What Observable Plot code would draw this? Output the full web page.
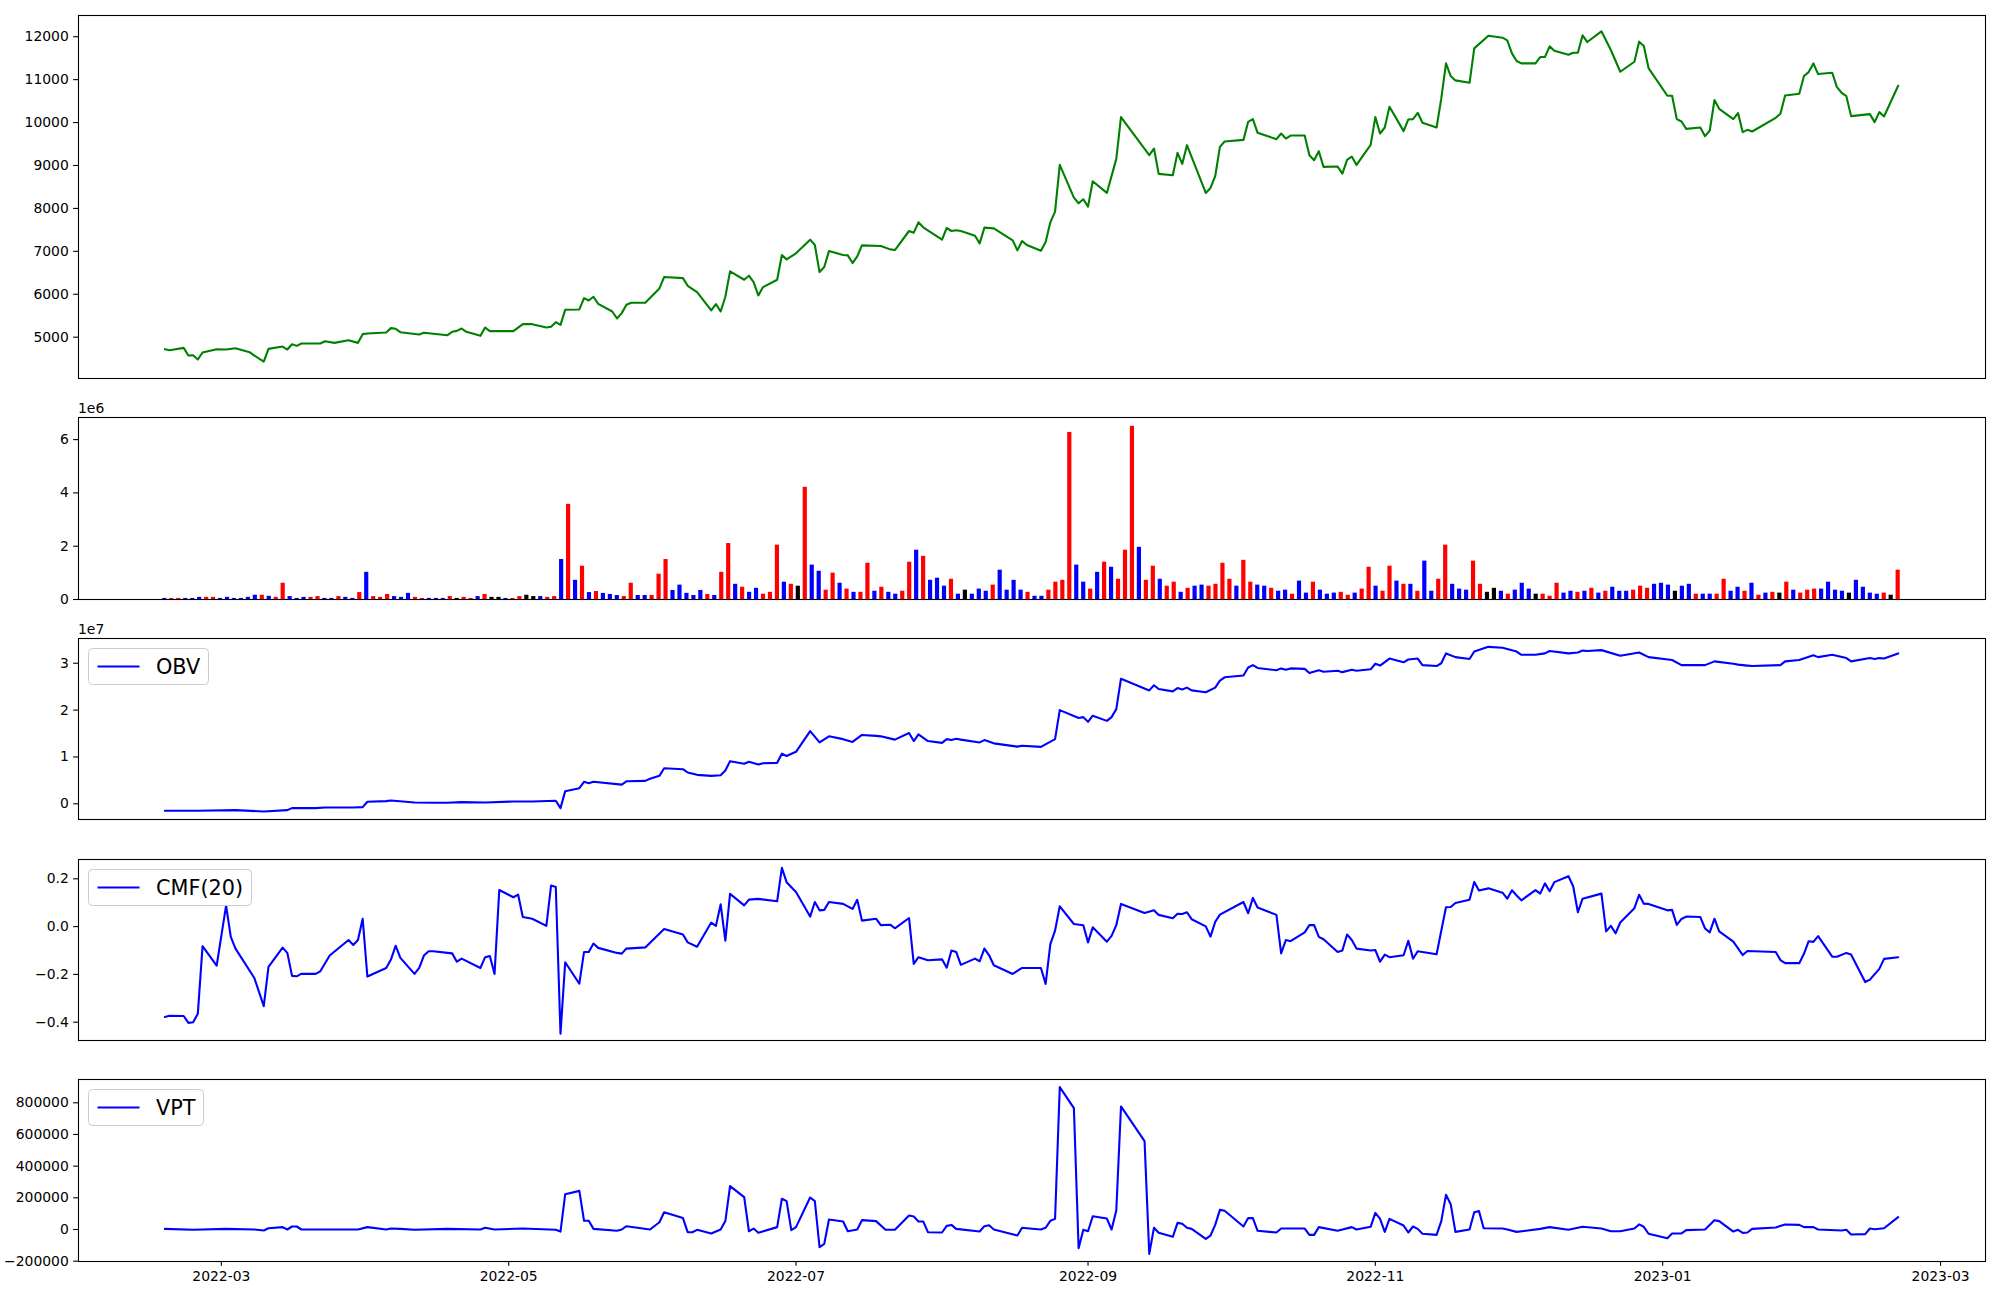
<!DOCTYPE html>
<html><head><meta charset="utf-8">
<script src="https://cdn.jsdelivr.net/npm/d3@7"></script>
<script src="https://cdn.jsdelivr.net/npm/@observablehq/plot@0.6"></script>
<style>
html,body{margin:0;padding:0;background:#fff;overflow:hidden}
#root{position:relative;width:2000px;height:1300px;font-family:"DejaVu Sans",sans-serif;background:#fff}
.panel{position:absolute;left:0}
.offset{position:absolute;font-size:13.9px;line-height:16px;color:#000;font-family:"DejaVu Sans",sans-serif}
.legend{position:absolute}
</style></head><body><div id="root"></div>
<script>
// ---------------- data ----------------
const priceSeries = [
["2022-02-17",4721],["2022-02-18",4697],["2022-02-21",4752],["2022-02-22",4573],["2022-02-23",4581],["2022-02-24",4480],["2022-02-25",4643],["2022-02-28",4721],
["2022-03-02",4713],["2022-03-04",4744],["2022-03-07",4651],["2022-03-08",4573],["2022-03-10",4433],["2022-03-11",4728],["2022-03-14",4783],["2022-03-15",4713],["2022-03-16",4837],["2022-03-17",4798],["2022-03-18",4853],["2022-03-22",4853],["2022-03-23",4907],["2022-03-25",4868],["2022-03-28",4930],["2022-03-30",4868],["2022-03-31",5071],
["2022-04-01",5086],["2022-04-05",5110],["2022-04-06",5211],["2022-04-07",5195],["2022-04-08",5117],["2022-04-12",5063],["2022-04-13",5102],["2022-04-18",5047],["2022-04-19",5125],["2022-04-20",5148],["2022-04-21",5203],["2022-04-22",5125],["2022-04-25",5032],["2022-04-26",5226],["2022-04-27",5141],
["2022-05-02",5141],["2022-05-04",5304],["2022-05-06",5304],["2022-05-09",5226],["2022-05-10",5242],["2022-05-11",5351],["2022-05-12",5288],["2022-05-13",5638],["2022-05-16",5646],["2022-05-17",5911],["2022-05-18",5856],["2022-05-19",5942],["2022-05-20",5778],["2022-05-23",5599],["2022-05-24",5436],["2022-05-25",5561],["2022-05-26",5755],["2022-05-27",5802],["2022-05-30",5802],
["2022-06-02",6136],["2022-06-03",6401],["2022-06-07",6377],["2022-06-08",6198],["2022-06-10",6051],["2022-06-13",5623],["2022-06-14",5771],["2022-06-15",5599],["2022-06-16",5942],["2022-06-17",6533],["2022-06-20",6338],["2022-06-21",6432],["2022-06-22",6284],["2022-06-23",5973],["2022-06-24",6167],["2022-06-27",6338],["2022-06-28",6914],["2022-06-29",6813],
["2022-07-01",6953],["2022-07-04",7272],["2022-07-05",7147],["2022-07-06",6517],["2022-07-07",6634],["2022-07-08",7007],["2022-07-11",6914],["2022-07-12",6906],["2022-07-13",6727],["2022-07-14",6883],["2022-07-15",7140],["2022-07-19",7124],["2022-07-21",7046],["2022-07-22",7031],["2022-07-25",7474],["2022-07-26",7435],["2022-07-27",7676],["2022-07-28",7560],
["2022-08-01",7272],["2022-08-02",7544],["2022-08-03",7474],["2022-08-04",7490],["2022-08-05",7474],["2022-08-08",7365],["2022-08-09",7186],["2022-08-10",7552],["2022-08-12",7536],["2022-08-16",7256],["2022-08-17",7023],["2022-08-18",7241],["2022-08-19",7147],["2022-08-22",7015],["2022-08-23",7217],["2022-08-24",7676],["2022-08-25",7925],["2022-08-26",9014],["2022-08-29",8252],["2022-08-30",8120],["2022-08-31",8213],
["2022-09-01",8042],["2022-09-02",8633],["2022-09-05",8361],["2022-09-07",9154],["2022-09-08",10126],["2022-09-14",9240],["2022-09-15",9395],["2022-09-16",8804],["2022-09-19",8773],["2022-09-20",9294],["2022-09-21",9037],["2022-09-22",9473],["2022-09-26",8361],["2022-09-27",8477],["2022-09-28",8750],["2022-09-29",9434],["2022-09-30",9559],
["2022-10-04",9597],["2022-10-05",10017],["2022-10-06",10080],["2022-10-07",9761],["2022-10-11",9613],["2022-10-12",9745],["2022-10-13",9628],["2022-10-14",9698],["2022-10-17",9698],["2022-10-18",9240],["2022-10-19",9123],["2022-10-20",9333],["2022-10-21",8967],["2022-10-24",8975],["2022-10-25",8812],["2022-10-26",9131],["2022-10-27",9209],["2022-10-28",9014],["2022-10-31",9481],
["2022-11-01",10126],["2022-11-02",9745],["2022-11-03",9885],["2022-11-04",10367],["2022-11-07",9800],["2022-11-08",10072],["2022-11-09",10080],["2022-11-10",10227],["2022-11-11",9994],["2022-11-14",9885],["2022-11-15",10562],["2022-11-16",11378],["2022-11-17",11083],["2022-11-18",10982],["2022-11-21",10927],["2022-11-22",11728],["2022-11-25",12024],["2022-11-28",11977],["2022-11-29",11915],["2022-11-30",11612],
["2022-12-01",11433],["2022-12-02",11378],["2022-12-05",11378],["2022-12-06",11526],["2022-12-07",11526],["2022-12-08",11775],["2022-12-09",11674],["2022-12-12",11581],["2022-12-13",11627],["2022-12-14",11627],["2022-12-15",12032],["2022-12-16",11876],["2022-12-19",12125],["2022-12-21",11690],["2022-12-23",11184],["2022-12-26",11417],["2022-12-27",11884],["2022-12-28",11783],["2022-12-29",11270],
["2023-01-02",10624],["2023-01-03",10624],["2023-01-04",10080],["2023-01-05",10025],["2023-01-06",9854],["2023-01-09",9885],["2023-01-10",9683],["2023-01-11",9815],["2023-01-12",10523],["2023-01-13",10321],["2023-01-16",10080],["2023-01-17",10220],["2023-01-18",9776],["2023-01-19",9831],["2023-01-20",9792],["2023-01-25",10111],["2023-01-26",10204],["2023-01-27",10632],["2023-01-30",10671],["2023-01-31",11083],
["2023-02-01",11176],["2023-02-02",11378],["2023-02-03",11130],["2023-02-06",11161],["2023-02-07",10826],["2023-02-08",10694],["2023-02-09",10616],["2023-02-10",10150],["2023-02-14",10196],["2023-02-15",10010],["2023-02-16",10243],["2023-02-17",10142],["2023-02-20",10857]
];

// daily volume (millions), one value per trading day, in order
const volumeE6 = [
.04,.04,.04,.04,.04,.08,.08,.08,.04,.08,
.04,.04,.08,.16,.16,.12,.08,.61,.11,.04,
.08,.08,.11,.04,.04,.11,.08,.04,.26,1.02,
.11,.08,.19,.11,.08,.23,.08,.04,.04,.04,
.04,.11,.04,.08,.04,.11,.19,.08,.08,.04,
.04,.11,.16,.11,.11,.08,.11,1.5,3.57,.72,
1.25,.26,.3,.23,.19,.15,.11,.61,.15,.15,
.15,.95,1.5,.34,.54,.23,.15,.34,.19,.15,
1.02,2.1,.57,.46,.27,.42,.2,.27,2.04,.65,
.57,.5,4.21,1.29,1.06,.35,.99,.61,.39,.27,
.27,1.36,.31,.46,.27,.2,.31,1.4,1.85,1.62,
.72,.8,.5,.76,.2,.35,.2,.39,.31,.54,
1.1,.35,.72,.35,.27,.12,.12,.35,.65,.72,
6.27,1.29,.65,.39,1.02,1.4,1.21,.76,1.85,6.5,
1.96,.72,1.25,.76,.5,.65,.27,.42,.5,.54,
.5,.57,1.36,.76,.5,1.47,.65,.54,.5,.42,
.31,.35,.2,.69,.24,.65,.35,.2,.24,.27,
.16,.24,.39,1.21,.5,.31,1.25,.69,.57,.57,
.31,1.44,.31,.76,2.04,.57,.39,.35,1.44,.57,
.27,.42,.31,.2,.35,.61,.39,.2,.2,.12,
.61,.24,.31,.27,.31,.42,.24,.31,.46,.31,
.31,.35,.5,.42,.57,.61,.54,.31,.5,.57,
.2,.2,.2,.2,.76,.31,.46,.31,.61,.16,
.24,.27,.24,.65,.35,.24,.35,.39,.39,.65,
.35,.31,.24,.72,.46,.24,.2,.24,.16,1.1
];
// bar colour per day: r = up, b = down, k = unchanged
const volumeDir = (
"brrbbbrrbb"+"bbbbrbrrbb"+"brrbbrbbrb"+"rrrbbbrrbb"+"brkrrbrkkb"+
"rrkkbrrbrb"+"rbrbbbrrbb"+"rrrbbbbbrb"+"rrbrbbrrrb"+"rkrbbrrbrb"+
"rrbrbbrrbr"+"bbbrbkbbbr"+"bbbbrbbrrr"+"rbbrbrbrrr"+"brrbrrbrbb"+
"rrrrbrrbbr"+"bbrbbrbbbr"+"rbrrbrrbrb"+"rbbrrbbbrr"+"kkbrbbbkrr"+
"rbbrbrbrbb"+"brrrbbbkbb"+"rbbrrbbrbr"+"brkrbrrrbb"+"bbkbbbbrkr").split("");

const obvE7 = [
["2022-02-17",-0.149],["2022-02-24",-0.149],["2022-03-04",-0.135],["2022-03-10",-0.163],["2022-03-15",-0.135],["2022-03-16",-0.092],["2022-03-21",-0.092],["2022-03-23",-0.078],["2022-03-29",-0.078],["2022-03-31",-0.071],
["2022-04-01",0.043],["2022-04-05",0.057],["2022-04-06",0.071],["2022-04-11",0.028],["2022-04-15",0.021],["2022-04-18",0.021],["2022-04-21",0.036],["2022-04-26",0.028],
["2022-05-02",0.05],["2022-05-06",0.05],["2022-05-11",0.064],["2022-05-12",-0.092],["2022-05-13",0.27],["2022-05-16",0.334],["2022-05-17",0.469],["2022-05-18",0.44],["2022-05-19",0.469],["2022-05-25",0.41],["2022-05-26",0.48],["2022-05-30",0.49],["2022-05-31",0.533],
["2022-06-02",0.597],["2022-06-03",0.76],["2022-06-07",0.739],["2022-06-08",0.668],["2022-06-10",0.618],["2022-06-13",0.597],["2022-06-15",0.611],["2022-06-16",0.711],["2022-06-17",0.91],["2022-06-20",0.853],["2022-06-21",0.896],["2022-06-23",0.839],["2022-06-24",0.867],["2022-06-27",0.874],["2022-06-28",1.07],["2022-06-29",1.02],
["2022-07-01",1.11],["2022-07-04",1.55],["2022-07-06",1.31],["2022-07-08",1.44],["2022-07-11",1.38],["2022-07-13",1.32],["2022-07-15",1.47],["2022-07-18",1.45],["2022-07-19",1.44],["2022-07-22",1.37],["2022-07-25",1.51],["2022-07-26",1.34],["2022-07-27",1.48],["2022-07-29",1.34],
["2022-08-01",1.30],["2022-08-02",1.38],["2022-08-03",1.36],["2022-08-04",1.39],["2022-08-05",1.37],["2022-08-09",1.31],["2022-08-10",1.36],["2022-08-12",1.29],["2022-08-17",1.22],["2022-08-18",1.24],["2022-08-22",1.215],["2022-08-25",1.38],["2022-08-26",2.0],["2022-08-30",1.83],["2022-08-31",1.85],
["2022-09-01",1.75],["2022-09-02",1.88],["2022-09-05",1.77],["2022-09-06",1.85],["2022-09-07",2.02],["2022-09-08",2.67],["2022-09-14",2.42],["2022-09-15",2.53],["2022-09-16",2.45],["2022-09-19",2.40],["2022-09-20",2.47],["2022-09-21",2.44],["2022-09-22",2.48],["2022-09-23",2.42],["2022-09-26",2.38],["2022-09-28",2.48],["2022-09-29",2.63],["2022-09-30",2.70],
["2022-10-04",2.74],["2022-10-05",2.91],["2022-10-06",2.96],["2022-10-07",2.90],["2022-10-11",2.85],["2022-10-12",2.89],["2022-10-13",2.86],["2022-10-14",2.89],["2022-10-17",2.88],["2022-10-18",2.79],["2022-10-20",2.85],["2022-10-21",2.82],["2022-10-24",2.84],["2022-10-25",2.81],["2022-10-27",2.86],["2022-10-28",2.84],["2022-10-31",2.87],
["2022-11-01",2.99],["2022-11-02",2.95],["2022-11-04",3.10],["2022-11-07",3.02],["2022-11-08",3.08],["2022-11-10",3.10],["2022-11-11",2.96],["2022-11-14",2.94],["2022-11-15",3.00],["2022-11-16",3.21],["2022-11-18",3.13],["2022-11-21",3.09],["2022-11-22",3.25],["2022-11-25",3.35],["2022-11-28",3.33],
["2022-12-01",3.25],["2022-12-02",3.18],["2022-12-05",3.18],["2022-12-07",3.21],["2022-12-08",3.26],["2022-12-12",3.21],["2022-12-14",3.23],["2022-12-15",3.27],["2022-12-16",3.26],["2022-12-19",3.28],["2022-12-23",3.16],["2022-12-27",3.23],["2022-12-29",3.13],
["2023-01-03",3.07],["2023-01-05",2.96],["2023-01-09",2.96],["2023-01-10",2.96],["2023-01-12",3.04],["2023-01-16",2.99],["2023-01-17",2.97],["2023-01-19",2.95],["2023-01-20",2.94],["2023-01-26",2.96],["2023-01-27",3.04],["2023-01-30",3.07],
["2023-02-02",3.17],["2023-02-03",3.13],["2023-02-06",3.18],["2023-02-09",3.11],["2023-02-10",3.04],["2023-02-14",3.11],["2023-02-15",3.09],["2023-02-16",3.11],["2023-02-17",3.10],["2023-02-20",3.21]
];

const cmf20 = [
["2022-02-17",-0.378],["2022-02-18",-0.373],["2022-02-21",-0.374],["2022-02-22",-0.403],["2022-02-23",-0.400],["2022-02-24",-0.365],["2022-02-25",-0.082],["2022-02-28",-0.163],
["2022-03-02",0.088],["2022-03-03",-0.043],["2022-03-04",-0.092],["2022-03-08",-0.215],["2022-03-10",-0.333],["2022-03-11",-0.169],["2022-03-14",-0.088],["2022-03-15",-0.110],["2022-03-16",-0.206],["2022-03-17",-0.208],["2022-03-18",-0.197],["2022-03-21",-0.198],["2022-03-22",-0.187],["2022-03-24",-0.121],["2022-03-28",-0.056],["2022-03-29",-0.077],["2022-03-30",-0.056],["2022-03-31",0.033],
["2022-04-01",-0.209],["2022-04-05",-0.173],["2022-04-06",-0.138],["2022-04-07",-0.080],["2022-04-08",-0.131],["2022-04-11",-0.198],["2022-04-12",-0.173],["2022-04-13",-0.121],["2022-04-14",-0.103],["2022-04-15",-0.103],["2022-04-19",-0.112],["2022-04-20",-0.147],["2022-04-21",-0.134],["2022-04-25",-0.173],["2022-04-26",-0.128],["2022-04-27",-0.123],["2022-04-28",-0.198],["2022-04-29",0.153],
["2022-05-02",0.123],["2022-05-03",0.134],["2022-05-04",0.040],["2022-05-06",0.033],["2022-05-09",0.003],["2022-05-10",0.172],["2022-05-11",0.166],["2022-05-12",-0.448],["2022-05-13",-0.149],["2022-05-16",-0.239],["2022-05-17",-0.106],["2022-05-18",-0.106],["2022-05-19",-0.071],["2022-05-20",-0.089],["2022-05-24",-0.110],["2022-05-25",-0.113],["2022-05-26",-0.092],["2022-05-30",-0.087],
["2022-06-03",-0.010],["2022-06-07",-0.033],["2022-06-08",-0.066],["2022-06-10",-0.084],["2022-06-13",0.017],["2022-06-14",0.003],["2022-06-15",0.093],["2022-06-16",-0.059],["2022-06-17",0.137],["2022-06-20",0.089],["2022-06-21",0.113],["2022-06-23",0.116],["2022-06-27",0.106],["2022-06-28",0.246],["2022-06-29",0.186],
["2022-07-01",0.145],["2022-07-04",0.042],["2022-07-05",0.103],["2022-07-06",0.068],["2022-07-07",0.070],["2022-07-08",0.103],["2022-07-11",0.095],["2022-07-13",0.074],["2022-07-14",0.112],["2022-07-15",0.025],["2022-07-18",0.033],["2022-07-19",0.006],["2022-07-21",0.008],["2022-07-22",-0.007],["2022-07-25",0.036],["2022-07-26",-0.156],["2022-07-27",-0.128],["2022-07-29",-0.141],
["2022-08-01",-0.137],["2022-08-02",-0.172],["2022-08-03",-0.100],["2022-08-04",-0.106],["2022-08-05",-0.160],["2022-08-08",-0.134],["2022-08-09",-0.145],["2022-08-10",-0.092],["2022-08-11",-0.120],["2022-08-12",-0.162],["2022-08-16",-0.198],["2022-08-18",-0.173],["2022-08-22",-0.173],["2022-08-23",-0.240],["2022-08-24",-0.073],["2022-08-25",-0.017],["2022-08-26",0.085],["2022-08-29",0.011],["2022-08-31",0.006],
["2022-09-01",-0.066],["2022-09-02",-0.003],["2022-09-05",-0.063],["2022-09-06",-0.039],["2022-09-07",0.006],["2022-09-08",0.095],["2022-09-13",0.057],["2022-09-15",0.068],["2022-09-16",0.049],["2022-09-19",0.035],["2022-09-20",0.054],["2022-09-21",0.053],["2022-09-22",0.060],["2022-09-23",0.031],["2022-09-26",0.001],["2022-09-27",-0.042],["2022-09-28",0.020],["2022-09-29",0.050],
["2022-10-04",0.103],["2022-10-05",0.056],["2022-10-06",0.120],["2022-10-07",0.080],["2022-10-11",0.049],["2022-10-12",-0.112],["2022-10-13",-0.056],["2022-10-14",-0.061],["2022-10-17",-0.024],["2022-10-18",0.006],["2022-10-19",0.006],["2022-10-20",-0.043],["2022-10-21",-0.053],["2022-10-24",-0.106],["2022-10-25",-0.100],["2022-10-26",-0.033],["2022-10-27",-0.056],["2022-10-28",-0.092],["2022-10-31",-0.100],
["2022-11-01",-0.098],["2022-11-02",-0.147],["2022-11-03",-0.117],["2022-11-04",-0.128],["2022-11-07",-0.120],["2022-11-08",-0.059],["2022-11-09",-0.134],["2022-11-10",-0.103],["2022-11-14",-0.116],["2022-11-16",0.081],["2022-11-17",0.082],["2022-11-18",0.099],["2022-11-21",0.112],["2022-11-22",0.187],["2022-11-23",0.151],["2022-11-25",0.160],["2022-11-28",0.142],["2022-11-29",0.117],["2022-11-30",0.152],
["2022-12-01",0.130],["2022-12-02",0.110],["2022-12-05",0.153],["2022-12-06",0.138],["2022-12-07",0.181],["2022-12-08",0.148],["2022-12-09",0.186],["2022-12-12",0.211],["2022-12-13",0.169],["2022-12-14",0.060],["2022-12-15",0.117],["2022-12-19",0.138],["2022-12-20",-0.020],["2022-12-21",0.003],["2022-12-22",-0.028],["2022-12-23",0.017],["2022-12-26",0.077],["2022-12-27",0.133],["2022-12-28",0.096],["2022-12-29",0.095],
["2023-01-02",0.068],["2023-01-03",0.070],["2023-01-04",0.007],["2023-01-05",0.032],["2023-01-06",0.042],["2023-01-09",0.040],["2023-01-10",-0.008],["2023-01-11",-0.024],["2023-01-12",0.033],["2023-01-13",-0.020],["2023-01-16",-0.063],["2023-01-18",-0.119],["2023-01-19",-0.102],["2023-01-25",-0.106],["2023-01-26",-0.140],["2023-01-27",-0.153],["2023-01-30",-0.153],["2023-01-31",-0.114],
["2023-02-01",-0.061],["2023-02-02",-0.064],["2023-02-03",-0.040],["2023-02-06",-0.126],["2023-02-07",-0.126],["2023-02-09",-0.110],["2023-02-10",-0.117],["2023-02-13",-0.232],["2023-02-14",-0.222],["2023-02-16",-0.177],["2023-02-17",-0.135],["2023-02-20",-0.128]
];

// VPT in thousands
const vptK = [
["2022-02-17",4],["2022-02-23",-2],["2022-03-02",4],["2022-03-08",0],["2022-03-10",-6],["2022-03-11",8],["2022-03-14",15],["2022-03-15",0],["2022-03-16",19],["2022-03-17",19],["2022-03-18",0],["2022-03-30",0],
["2022-04-01",15],["2022-04-05",0],["2022-04-06",6],["2022-04-08",4],["2022-04-11",-2],["2022-04-18",4],["2022-04-25",0],["2022-04-26",11],["2022-04-28",0],
["2022-05-04",6],["2022-05-11",-2],["2022-05-12",-13],["2022-05-13",223],["2022-05-16",244],["2022-05-17",55],["2022-05-18",55],["2022-05-19",4],["2022-05-24",-8],["2022-05-25",0],["2022-05-26",21],["2022-05-31",0],
["2022-06-02",46],["2022-06-03",109],["2022-06-07",72],["2022-06-08",-17],["2022-06-09",-17],["2022-06-10",-2],["2022-06-13",-25],["2022-06-15",0],["2022-06-16",53],["2022-06-17",274],["2022-06-20",204],["2022-06-21",-11],["2022-06-22",6],["2022-06-23",-21],["2022-06-27",15],["2022-06-28",194],["2022-06-29",179],["2022-06-30",-4],
["2022-07-01",15],["2022-07-04",202],["2022-07-05",179],["2022-07-06",-112],["2022-07-07",-91],["2022-07-08",63],["2022-07-11",51],["2022-07-12",-11],["2022-07-14",0],["2022-07-15",59],["2022-07-18",53],["2022-07-20",-2],["2022-07-22",-2],["2022-07-25",88],["2022-07-26",82],["2022-07-27",51],["2022-07-28",51],["2022-07-29",-17],
["2022-08-01",-19],["2022-08-02",23],["2022-08-03",29],["2022-08-04",4],["2022-08-09",-13],["2022-08-10",21],["2022-08-11",27],["2022-08-12",0],["2022-08-17",-38],["2022-08-18",11],["2022-08-19",8],["2022-08-22",0],["2022-08-23",11],["2022-08-24",55],["2022-08-25",67],["2022-08-26",899],["2022-08-29",766],["2022-08-30",-118],["2022-08-31",-2],
["2022-09-01",-11],["2022-09-02",84],["2022-09-05",69],["2022-09-06",0],["2022-09-07",120],["2022-09-08",777],["2022-09-13",558],["2022-09-14",-154],["2022-09-15",11],["2022-09-16",-21],["2022-09-19",-46],["2022-09-20",42],["2022-09-21",36],["2022-09-22",11],["2022-09-23",4],["2022-09-26",-59],["2022-09-27",-38],["2022-09-28",29],["2022-09-29",124],["2022-09-30",118],
["2022-10-04",19],["2022-10-05",72],["2022-10-06",72],["2022-10-07",-8],["2022-10-11",-19],["2022-10-12",6],["2022-10-17",6],["2022-10-18",-34],["2022-10-19",-34],["2022-10-20",15],["2022-10-24",-8],["2022-10-27",15],["2022-10-28",0],["2022-10-31",17],
["2022-11-01",105],["2022-11-02",67],["2022-11-03",-15],["2022-11-04",67],["2022-11-07",25],["2022-11-08",-19],["2022-11-09",19],["2022-11-10",4],["2022-11-11",-27],["2022-11-14",-34],["2022-11-15",53],["2022-11-16",219],["2022-11-17",160],["2022-11-18",-15],["2022-11-21",0],["2022-11-22",109],["2022-11-23",116],["2022-11-24",8],["2022-11-28",6],["2022-11-29",0],
["2022-12-01",-15],["2022-12-06",4],["2022-12-08",15],["2022-12-12",-2],["2022-12-15",17],["2022-12-19",6],["2022-12-21",-11],["2022-12-23",-11],["2022-12-26",6],["2022-12-27",32],["2022-12-28",17],["2022-12-29",-27],
["2023-01-02",-55],["2023-01-03",-25],["2023-01-05",-25],["2023-01-06",-4],["2023-01-10",0],["2023-01-12",59],["2023-01-13",53],["2023-01-16",-13],["2023-01-17",-2],["2023-01-18",-21],["2023-01-19",-19],["2023-01-20",4],["2023-01-25",13],["2023-01-27",32],["2023-01-30",29],["2023-01-31",15],
["2023-02-02",15],["2023-02-03",0],["2023-02-08",-6],["2023-02-09",-2],["2023-02-10",-32],["2023-02-13",-29],["2023-02-14",6],["2023-02-15",2],["2023-02-17",8],["2023-02-20",78]
];

const priceTicks = [5000,6000,7000,8000,9000,10000,11000,12000];
const volumeTicks = [0,2,4,6];
const obvTicks = [0,1,2,3];
const cmfTicks = [-0.4,-0.2,0,0.2];
const vptTicks = [-200,0,200,400,600,800];
const legendLabels = ["OBV","CMF(20)","VPT"];
const offsetLabels = ["1e6","1e7"];

// ---------------- drawing ----------------
const parse = d3.utcParse("%Y-%m-%d");
const rows = s => s.map(([d, v]) => ({date: parse(d), value: v}));
const root = document.getElementById("root");
const W = 2000, ML = 78, MR = 15;
const FONT = "'DejaVu Sans', sans-serif";
const FS = 13.9, TICK = 4.86;
const xDomain = [new Date(Date.UTC(2022,0,29,16)), new Date(Date.UTC(2023,2,10,13))];

function panel(top, bottom, opts, mt = 12, mb = 12) {
  const svg = Plot.plot({
    width: W, height: mt + (bottom - top) + mb,
    marginTop: mt, marginBottom: mb, marginLeft: ML, marginRight: MR,
    style: {background: "transparent", fontFamily: FONT, fontSize: FS + "px", color: "black", overflow: "visible"},
    color: {type: "identity"},
    ...opts
  });
  const div = document.createElement("div");
  div.className = "panel";
  div.style.top = (top - mt) + "px";
  div.appendChild(svg);
  root.appendChild(div);
}
const yAxis = (ticks, fmt) => Plot.axisY({ticks, tickFormat: fmt, tickSize: TICK, tickPadding: TICK, fontSize: FS, label: null, strokeWidth: 1.1});
const frame = () => Plot.frame({stroke: "black", strokeWidth: 1.1});
const xHidden = {type: "utc", domain: xDomain, axis: null};
const fmtInt = d3.format("d");

// 1. price
panel(15, 378, {
  x: xHidden,
  y: {domain: [4038, 12494], label: null},
  marks: [
    Plot.lineY(rows(priceSeries), {x: "date", y: "value", stroke: "green", strokeWidth: 2.1}),
    yAxis(priceTicks, fmtInt),
    frame()
  ]
});

// 2. volume (bars evenly spaced across the same date span)
const T0 = parse(priceSeries[0][0]), T1 = parse(priceSeries[priceSeries.length - 1][0]);
const step = (T1 - T0) / (volumeE6.length - 1);
const iDomain = [(xDomain[0] - T0) / step, (xDomain[1] - T0) / step];
const colorOf = {r: "red", b: "blue", k: "black"};
const volRows = volumeE6.map((v, i) => ({i, v, c: colorOf[volumeDir[i]]}));
panel(417, 599, {
  x: {type: "linear", domain: iDomain, axis: null},
  y: {domain: [0, 6.83], label: null},
  marks: [
    Plot.rectY(volRows, {x1: d => d.i - 0.3, x2: d => d.i + 0.3, y: "v", fill: "c"}),
    yAxis(volumeTicks, fmtInt),
    frame()
  ]
});

// 3. OBV
panel(638, 819, {
  x: xHidden,
  y: {domain: [-0.335, 3.528], label: null},
  marks: [
    Plot.lineY(rows(obvE7), {x: "date", y: "value", stroke: "blue", strokeWidth: 2.1}),
    yAxis(obvTicks, fmtInt),
    frame()
  ]
});

// 4. CMF
panel(859, 1040, {
  x: xHidden,
  y: {domain: [-0.4766, 0.2808], label: null},
  marks: [
    Plot.lineY(rows(cmf20), {x: "date", y: "value", stroke: "blue", strokeWidth: 2.1}),
    yAxis(cmfTicks, d3.format(".1f")),
    frame()
  ]
});

// 5. VPT
panel(1079, 1261, {
  x: {type: "utc", domain: xDomain, label: null},
  y: {domain: [-202, 947], label: null},
  marks: [
    Plot.lineY(rows(vptK), {x: "date", y: "value", stroke: "blue", strokeWidth: 2.1}),
    yAxis(vptTicks, d => fmtInt(d * 1000)),
    Plot.axisX({ticks: d3.utcMonth.every(2).range(xDomain[0], xDomain[1]), tickFormat: d3.utcFormat("%Y-%m"), tickSize: TICK, tickPadding: TICK, fontSize: FS, label: null, strokeWidth: 1.1}),
    frame()
  ]
}, 12, 40);

// offset texts
[[offsetLabels[0], 400], [offsetLabels[1], 621]].forEach(([t, top]) => {
  const d = document.createElement("div");
  d.className = "offset"; d.textContent = t;
  d.style.left = ML + "px"; d.style.top = top + "px";
  root.appendChild(d);
});

// legends
const ctx = document.createElement("canvas").getContext("2d");
ctx.font = "20.8px 'DejaVu Sans'";
[[legendLabels[0], 648], [legendLabels[1], 869], [legendLabels[2], 1089]].forEach(([label, top]) => {
  const tw = ctx.measureText(label).width;
  const w = Math.round(67.6 + tw + 8.3), h = 36;
  const ns = "http://www.w3.org/2000/svg";
  const svg = document.createElementNS(ns, "svg");
  svg.setAttribute("class", "legend");
  svg.setAttribute("width", w + 2); svg.setAttribute("height", h + 2);
  svg.style.left = "87.5px"; svg.style.top = (top - 0.5) + "px";
  svg.innerHTML =
    `<rect x="0.5" y="0.5" width="${w}" height="${h}" rx="4" ry="4" fill="white" fill-opacity="0.8" stroke="#cccccc" stroke-width="1"/>` +
    `<line x1="9.5" x2="51.5" y1="${h/2 + 0.5}" y2="${h/2 + 0.5}" stroke="blue" stroke-width="2.1"/>` +
    `<text x="68" y="${h/2 + 0.5}" dominant-baseline="central" font-family="DejaVu Sans" font-size="20.8px" fill="black">${label}</text>`;
  root.appendChild(svg);
});
</script></body></html>
